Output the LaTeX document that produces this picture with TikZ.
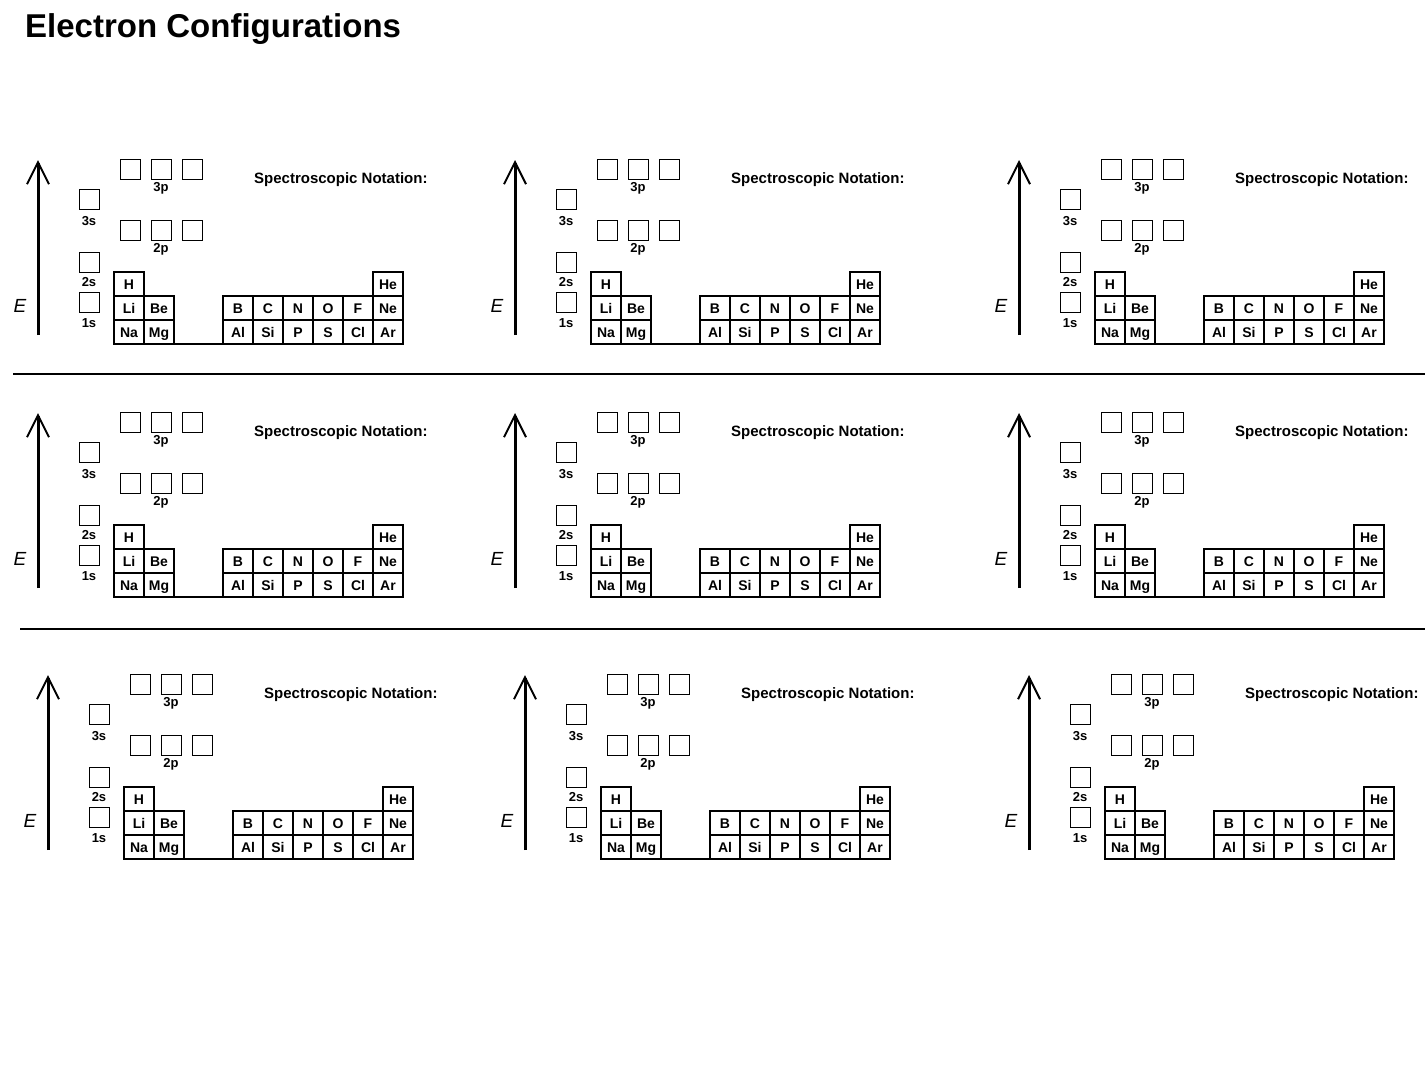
\documentclass[tikz,border=0pt]{standalone}
\usepackage{fontspec}
\setmainfont{Liberation Sans}
\usetikzlibrary{arrows.meta,positioning}

\tikzset{
  cell/.style={draw, line width=1.6pt, outer sep=0pt, minimum width=30pt, minimum height=24pt, inner sep=0pt, text height=10pt, text depth=0pt, font=\bfseries\fontsize{14}{14}\selectfont},
  orb/.style={draw, line width=1pt, minimum size=20pt, inner sep=0pt},
  orblbl/.style={inner sep=0pt, font=\bfseries\fontsize{13}{13}\selectfont},
  sepline/.style={line width=2pt},
}

% one energy diagram with its small periodic table
\newcommand{\panel}[1]{%
  \coordinate (#1-bot) at (38,335);
  \coordinate (#1-top) at (38,160);
  \draw[line width=3pt, -{Straight Barb[length=22pt,width=22pt,line width=2pt]}] (#1-bot) -- (#1-top);
  \node[font=\itshape\fontsize{19}{19}\selectfont, inner sep=0pt] (#1-E) at (20,306) {E};
  % s levels
  \foreach \o/\cy/\gap in {1s/302.5/5pt, 2s/262/5pt, 3s/199/7pt} {
    \node[orb] (#1-\o) at (89,\cy) {};
    \node[orblbl, below=\gap of #1-\o] (#1-\o-lbl) {\o};
  }
  % p levels
  \foreach \o/\cy in {2p/230.5, 3p/169.5} {
    \foreach \k/\cx in {1/130, 2/161, 3/192}
      \node[orb] (#1-\o\k) at (\cx,\cy) {};
    \node[orblbl, below=2pt of #1-\o2] (#1-\o-lbl) {\o};
  }
  % periodic table
  \foreach \el/\cx/\cy in {H/129/284, Li/129/308, Be/159/308, Na/129/332, Mg/159/332,
      B/238/308, C/268/308, N/298/308, O/328/308, F/358/308,
      Al/238/332, Si/268/332, P/298/332, S/328/332, Cl/358/332,
      He/388/284, Ne/388/308, Ar/388/332}
    \node[cell] (#1-\el) at (\cx,\cy) {\el};
  \draw[line width=1.6pt] (#1-Mg.south east) -- (#1-Al.south west);
  \node[anchor=base west, inner sep=0pt, font=\bfseries\fontsize{15}{15}\selectfont] (#1-note) at (254,183) {Spectroscopic Notation:};
}

\begin{document}
\begin{tikzpicture}[x=1pt, y=-1pt]
  \useasboundingbox (0,0) rectangle (1425,1080);
  \node[anchor=base west, inner sep=0pt, font=\bfseries\fontsize{33}{33}\selectfont] (title) at (25,37) {Electron Configurations};
  \foreach \row/\dy/\ex in {1/0/0, 2/253/0, 3/515/10}
    \foreach \col/\dx in {1/0, 2/477, 3/981} {
      \begin{scope}[shift={(\dx+\ex,\dy)}]
        \panel{p\row\col}
      \end{scope}
    }
  \draw[sepline] (13,374) -- (1425,374);
  \draw[sepline] (20,629) -- (1425,629);
\end{tikzpicture}
\end{document}
